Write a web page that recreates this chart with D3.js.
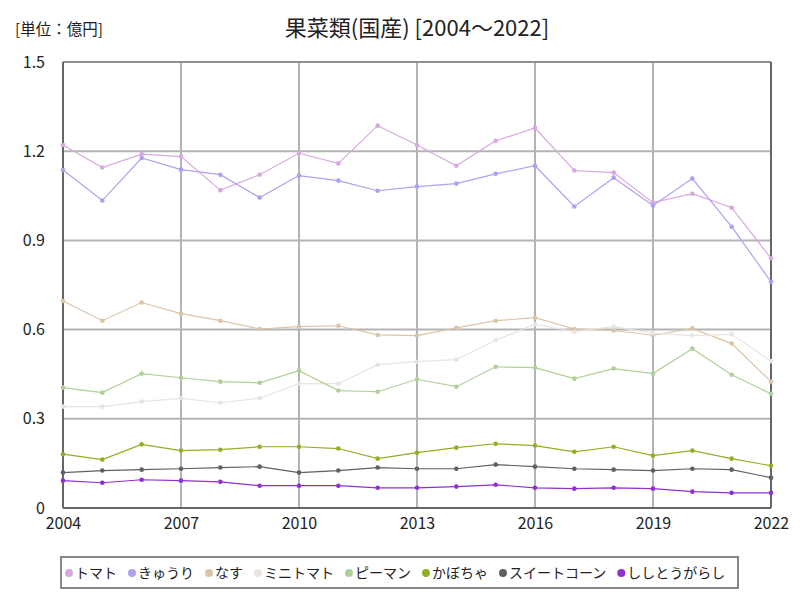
<!DOCTYPE html>
<html><head><meta charset="utf-8">
<script src="https://cdn.jsdelivr.net/npm/d3@7"></script>
<style>body{margin:0;background:#fff;}svg{display:block;font-family:"Noto Sans CJK JP","Noto Sans",sans-serif;}</style>
</head><body><svg id="c" width="800" height="600"></svg>
<script>
const years = [2004,2005,2006,2007,2008,2009,2010,2011,2012,2013,2014,2015,2016,2017,2018,2019,2020,2021,2022];
const xTicks = [2004,2007,2010,2013,2016,2019,2022];
const yTicks = [0,0.3,0.6,0.9,1.2,1.5];
const seriesNames = ["トマト","きゅうり","なす","ミニトマト","ピーマン","かぼちゃ","スイートコーン","ししとうがらし"];
const seriesColors = ["#d8a8e0","#b0a0f0","#dcc4a8","#e8e4e0","#b0d098","#90b020","#606060","#9030d0"];
const tomato = [1.221,1.145,1.190,1.182,1.069,1.121,1.193,1.159,1.286,1.221,1.151,1.235,1.278,1.135,1.128,1.027,1.057,1.010,0.840];
const cucumber = [1.137,1.034,1.177,1.138,1.121,1.044,1.118,1.101,1.067,1.081,1.091,1.124,1.151,1.014,1.111,1.017,1.108,0.946,0.761];
const eggplant = [0.696,0.630,0.691,0.654,0.630,0.602,0.610,0.613,0.582,0.580,0.606,0.630,0.640,0.602,0.597,0.581,0.604,0.553,0.425];
const miniTomato = [0.341,0.341,0.358,0.369,0.354,0.369,0.418,0.418,0.482,0.492,0.499,0.564,0.618,0.593,0.610,0.588,0.580,0.584,0.494];
const piman = [0.405,0.388,0.452,0.438,0.425,0.421,0.462,0.395,0.391,0.433,0.408,0.475,0.472,0.435,0.469,0.452,0.536,0.448,0.384];
const kabocha = [0.181,0.163,0.214,0.193,0.196,0.206,0.206,0.200,0.166,0.186,0.203,0.216,0.210,0.189,0.206,0.176,0.193,0.166,0.142];
const sweetCorn = [0.119,0.126,0.129,0.132,0.136,0.139,0.119,0.126,0.136,0.132,0.132,0.146,0.139,0.132,0.129,0.126,0.132,0.129,0.102];
const shishito = [0.092,0.085,0.095,0.092,0.088,0.075,0.075,0.075,0.068,0.068,0.072,0.078,0.068,0.065,0.068,0.065,0.055,0.051,0.051];
const seriesValues = [tomato,cucumber,eggplant,miniTomato,piman,kabocha,sweetCorn,shishito];

const svg = d3.select("#c");
const L=63,R=771,T=62,B=508;
const x = d3.scaleLinear().domain([2004,2022]).range([L,R]);
const y = d3.scaleLinear().domain([0,1.5]).range([B,T]);

// grid
const g = svg.append("g");
g.selectAll(".hg").data(yTicks).join("line")
  .attr("x1",L).attr("x2",R).attr("y1",d=>y(d)).attr("y2",d=>y(d))
  .attr("stroke","#b4b4b4").attr("stroke-width",2);
g.selectAll(".vg").data(xTicks).join("line")
  .attr("y1",T).attr("y2",B).attr("x1",d=>x(d)).attr("x2",d=>x(d))
  .attr("stroke","#b4b4b4").attr("stroke-width",2);
// frame
svg.append("line").attr("x1",L).attr("x2",R).attr("y1",T).attr("y2",T).attr("stroke","#909090").attr("stroke-width",2);
svg.append("line").attr("x1",L).attr("x2",L).attr("y1",T).attr("y2",B).attr("stroke","#666").attr("stroke-width",2);
svg.append("line").attr("x1",R).attr("x2",R).attr("y1",T).attr("y2",B).attr("stroke","#666").attr("stroke-width",2);
svg.append("line").attr("x1",L).attr("x2",R).attr("y1",B).attr("y2",B).attr("stroke","#666").attr("stroke-width",2);

// axes
const yAxis = d3.axisLeft(y).tickValues(yTicks).tickSize(0).tickPadding(18).tickFormat(d=>d===0?"0":d3.format(".1f")(d));
const ya = svg.append("g").attr("transform",`translate(${L},0)`).call(yAxis);
ya.select(".domain").remove();
ya.selectAll("text").attr("font-size",16).attr("fill","#222").attr("font-family","'Noto Sans CJK JP',sans-serif");
const xAxis = d3.axisBottom(x).tickValues(xTicks).tickSize(0).tickPadding(10).tickFormat(d3.format("d"));
const xa = svg.append("g").attr("transform",`translate(0,${B})`).call(xAxis);
xa.select(".domain").remove();
xa.selectAll("text").attr("font-size",16).attr("fill","#222").attr("font-family","'Noto Sans CJK JP',sans-serif");

// lines
const line = d3.line().x((d,i)=>x(years[i])).y(d=>y(d));
seriesValues.forEach((vals,k)=>{
  const sg = svg.append("g");
  sg.append("path").datum(vals).attr("d",line).attr("fill","none")
    .attr("stroke",seriesColors[k]).attr("stroke-width",1.2);
  sg.selectAll("circle").data(vals).join("circle")
    .attr("cx",(d,i)=>x(years[i])).attr("cy",d=>y(d)).attr("r",2.3)
    .attr("fill",seriesColors[k]);
});

// titles
svg.append("text").attr("x",417).attr("y",36).attr("text-anchor","middle")
  .attr("font-size",22).attr("fill","#222").text("果菜類(国産) [2004～2022]");
svg.append("text").attr("x",15).attr("y",35).attr("font-size",15.5).attr("fill","#222").text("[単位：億円]");

// legend
svg.append("rect").attr("x",61).attr("y",557).attr("width",677).attr("height",31)
  .attr("fill","#fff").attr("stroke","#888").attr("stroke-width",2);
const lg = svg.append("g");
let lx = 67;
seriesNames.forEach((n,k)=>{
  lg.append("circle").attr("cx",lx+2).attr("cy",573).attr("r",4).attr("fill",seriesColors[k]);
  const t = lg.append("text").attr("x",lx+8).attr("y",578).attr("font-size",14).attr("fill","#222").text(n);
  lx += t.node().getComputedTextLength() + 21;
});
</script></body></html>
